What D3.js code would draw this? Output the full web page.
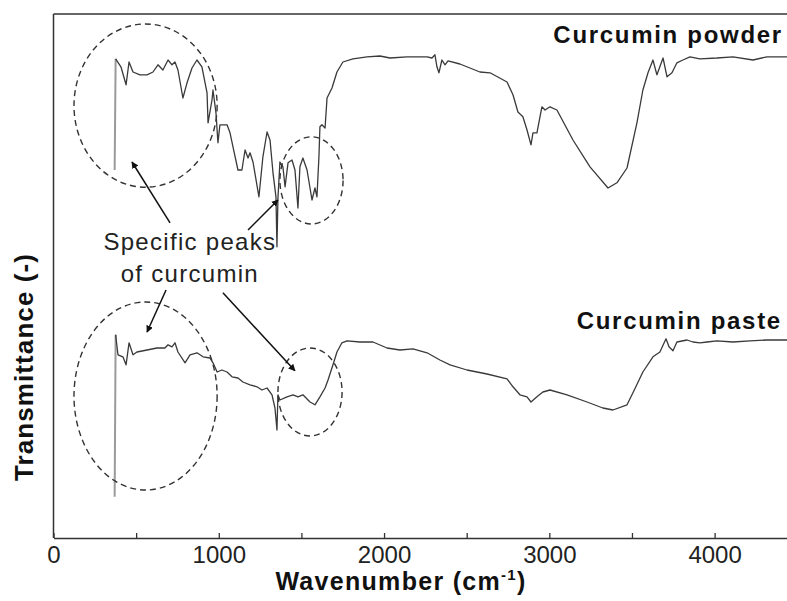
<!DOCTYPE html>
<html>
<head>
<meta charset="utf-8">
<script src="https://cdn.jsdelivr.net/npm/d3@7"></script>
<style>
  body { margin: 0; background: #fff; }
  text { font-family: 'Liberation Sans', Arial, sans-serif; }
</style>
</head>
<body>
<div id="chart"></div>
<script>
// FTIR spectra: [wavenumber (cm-1), transmittance (a.u.)]
const powder = [
  [370, 92], [376, 119.8], [408, 117.8], [439, 113.3], [457, 119], [481, 116.5], [523, 115.8],
  [566, 115.8], [602, 116.5], [632, 118.3], [662, 117], [693, 119.5], [717, 118.3], [735, 119],
  [753, 117], [783, 110], [808, 113.8], [838, 117.5], [868, 119.5], [898, 117.8], [929, 111.3],
  [935, 103.8], [959, 109.5], [965, 112], [983, 106.3], [995, 98.8], [1007, 103.3], [1050, 103.3],
  [1068, 101.3], [1086, 97.8], [1116, 92], [1140, 92], [1159, 97], [1177, 95], [1189, 96.3],
  [1207, 94], [1243, 85.3], [1267, 95.3], [1292, 101.5], [1310, 99.5], [1328, 91.3], [1346, 85.3],
  [1352, 72.8], [1358, 85], [1370, 94], [1388, 92.8], [1401, 87.8], [1419, 93.8], [1443, 94.5],
  [1461, 92], [1479, 82.5], [1491, 92.8], [1509, 95], [1534, 92], [1564, 84.5], [1582, 87.5],
  [1594, 85.3], [1606, 95.3], [1612, 102.8], [1624, 103.3], [1643, 102.5], [1655, 110],
  [1685, 112.5], [1715, 116.5], [1751, 119], [1812, 119.8], [1897, 120.3], [1975, 120.5],
  [2036, 120], [2139, 120.3], [2260, 120.3], [2290, 120], [2308, 120.8], [2320, 117.8],
  [2332, 116.3], [2350, 119.5], [2369, 118.3], [2387, 119.3], [2459, 118.5], [2580, 116.5],
  [2641, 116.3], [2744, 114], [2780, 110.8], [2810, 106.5], [2840, 105.3], [2865, 102],
  [2889, 98.3], [2901, 101.3], [2925, 101.3], [2955, 107.8], [2974, 107], [3004, 107.8],
  [3046, 107], [3143, 99.5], [3246, 92.8], [3355, 87.5], [3409, 88.8], [3470, 92.5],
  [3530, 103.8], [3566, 112], [3597, 116.3], [3627, 119.5], [3651, 115.8], [3688, 120],
  [3712, 115.3], [3742, 116.3], [3772, 118.8], [3808, 119.5], [3851, 120.3], [3911, 119.8],
  [4014, 120], [4111, 120.3], [4232, 119.5], [4317, 120.3], [4438, 120.3]
]
const paste = [
  [370, 10.3], [376, 50.8], [390, 45.8], [420, 45.3], [439, 43.3], [457, 48.8], [481, 45.8],
  [505, 46.5], [566, 47], [626, 47.5], [674, 47.5], [693, 48.3], [717, 47.8], [735, 48.8],
  [753, 46.5], [796, 43.8], [826, 45.8], [868, 46.3], [905, 45.3], [947, 45], [965, 43.8],
  [990, 41.5], [1019, 42], [1050, 41.5], [1080, 40.3], [1116, 40], [1146, 39], [1189, 38.3],
  [1231, 37.8], [1261, 37], [1292, 37.5], [1322, 35.8], [1340, 32.5], [1352, 27], [1358, 35.8],
  [1370, 34.5], [1413, 35.3], [1449, 35.8], [1479, 35.3], [1509, 35.8], [1552, 34], [1582, 33.3],
  [1612, 35.3], [1643, 37.5], [1661, 39.5], [1691, 43.3], [1715, 46.5], [1745, 48.8],
  [1776, 49.3], [1854, 49], [1933, 49], [2018, 47.5], [2096, 47], [2175, 47.3], [2260, 46.3],
  [2338, 44.5], [2399, 43.3], [2502, 42], [2623, 41], [2744, 39.8], [2780, 37.8], [2822, 35.8],
  [2865, 35.3], [2889, 34], [2925, 35.3], [2961, 36.5], [3004, 37], [3107, 35.8], [3228, 34],
  [3324, 32.5], [3385, 32], [3470, 33.3], [3506, 36.3], [3566, 41.5], [3627, 45.3], [3669, 46.5],
  [3706, 49.8], [3724, 47.8], [3748, 46.8], [3772, 49], [3833, 49.5], [3869, 49], [3911, 48.8],
  [3954, 49], [4014, 49.3], [4111, 49], [4214, 49.3], [4317, 49.5], [4438, 49.5]
]
const seriesLabels = [
  {text: 'Curcumin powder', x: 4413, y: 123.8},
  {text: 'Curcumin paste', x: 4407, y: 52.3}
]
const xTicks = [0, 1000, 2000, 3000, 4000]
const xMinorTicks = [500, 1500, 2500, 3500]
// dashed circles around the specific peaks: center and radii in data units
const circles = [
  {cx: 557, cy: 108.1, rx: 433, ry: 20.4},
  {cx: 1561, cy: 89.4, rx: 191, ry: 10.9},
  {cx: 557, cy: 35.5, rx: 433, ry: 23.5},
  {cx: 1552, cy: 36.5, rx: 194, ry: 11}
]
const arrows = [
  {x1: 705, y1: 78.8, x2: 475, y2: 94},
  {x1: 1177, y1: 77, x2: 1358, y2: 84.5},
  {x1: 681, y1: 62, x2: 566, y2: 51.5},
  {x1: 1025, y1: 61.3, x2: 1461, y2: 41.8}
]
const noteLines = ['Specific peaks', 'of curcumin']
const noteAt = {x: 825, y: [72, 64]}

const width = 787, height = 601
const margin = {top: 14, right: 0, bottom: 63, left: 53.5}

const x = d3.scaleLinear().domain([0, 4438]).range([margin.left, width - margin.right])
const y = d3.scaleLinear().domain([0, 131]).range([height - margin.bottom, margin.top])

const svg = d3.select('#chart').append('svg')
  .attr('width', width)
  .attr('height', height)

const defs = svg.append('defs')
defs.append('marker')
  .attr('id', 'head')
  .attr('viewBox', '0 0 10 10')
  .attr('refX', 9).attr('refY', 5)
  .attr('markerWidth', 7).attr('markerHeight', 7)
  .attr('markerUnits', 'userSpaceOnUse')
  .attr('orient', 'auto')
  .append('path')
  .attr('d', 'M0,0L10,5L0,10z')
  .attr('fill', '#111')

// frame: top line, then axes
svg.append('line')
  .attr('x1', x(0)).attr('x2', width)
  .attr('y1', y(131)).attr('y2', y(131))
  .attr('stroke', '#333').attr('stroke-width', 1.5)

const xAxis = d3.axisBottom(x)
  .tickValues(xTicks.concat(xMinorTicks))
  .tickSizeInner(-5).tickSizeOuter(0)
  .tickFormat(d => xTicks.includes(d) ? d : '')
const gx = svg.append('g')
  .attr('transform', `translate(0,${y(0)})`)
  .call(xAxis)
gx.select('.domain').attr('stroke', '#333').attr('stroke-width', 1.5)
gx.selectAll('.tick line').attr('stroke', '#333').attr('stroke-width', 1.3)
gx.selectAll('.tick text')
  .attr('y', 25)
  .attr('dy', 0)
  .attr('fill', '#222')
  .style('font-size', '24px')
  .style('font-family', "'Liberation Sans', Arial, sans-serif")

svg.append('line')
  .attr('x1', x(0)).attr('x2', x(0))
  .attr('y1', y(131)).attr('y2', y(0))
  .attr('stroke', '#333').attr('stroke-width', 1.5)

// axis titles
const xt = svg.append('text')
  .attr('x', 401).attr('y', 590)
  .attr('text-anchor', 'middle')
  .attr('font-weight', 'bold')
  .attr('font-size', 25)
  .attr('letter-spacing', 1.3)
  .attr('fill', '#111')
xt.append('tspan').text('Wavenumber (cm')
xt.append('tspan').attr('font-size', 15).attr('dy', -10).text('-1')
xt.append('tspan').attr('dy', 10).text(')')

svg.append('text')
  .attr('transform', 'translate(33,367) rotate(-90)')
  .attr('text-anchor', 'middle')
  .attr('font-weight', 'bold')
  .attr('font-size', 26)
  .attr('letter-spacing', 1.1)
  .attr('fill', '#111')
  .text('Transmittance (-)')

// spectra
const line = d3.line().x(d => x(d[0])).y(d => y(d[1]))
;[powder, paste].forEach(s => {
  svg.append('path')
    .datum(s.slice(0, 2))
    .attr('d', line)
    .attr('fill', 'none')
    .attr('stroke', '#9a9a9a')
    .attr('stroke-width', 2)
  svg.append('path')
    .datum(s.slice(1))
    .attr('d', line)
    .attr('fill', 'none')
    .attr('stroke', '#3a3a3a')
    .attr('stroke-width', 1.3)
    .attr('stroke-linejoin', 'round')
})

svg.selectAll('.series-label')
  .data(seriesLabels)
  .join('text')
  .attr('class', 'series-label')
  .attr('x', d => x(d.x)).attr('y', d => y(d.y))
  .attr('text-anchor', 'end')
  .attr('font-weight', 'bold')
  .attr('font-size', 24)
  .attr('letter-spacing', 1.7)
  .attr('fill', '#111')
  .text(d => d.text)

// annotations
svg.selectAll('.ring')
  .data(circles)
  .join('ellipse')
  .attr('class', 'ring')
  .attr('cx', d => x(d.cx)).attr('cy', d => y(d.cy))
  .attr('rx', d => x(d.rx) - x(0)).attr('ry', d => y(0) - y(d.ry))
  .attr('fill', 'none')
  .attr('stroke', '#333')
  .attr('stroke-width', 1.4)
  .attr('stroke-dasharray', '6,4')

svg.selectAll('.arrow')
  .data(arrows)
  .join('line')
  .attr('class', 'arrow')
  .attr('x1', d => x(d.x1)).attr('y1', d => y(d.y1))
  .attr('x2', d => x(d.x2)).attr('y2', d => y(d.y2))
  .attr('stroke', '#111')
  .attr('stroke-width', 1.5)
  .attr('marker-end', 'url(#head)')

svg.selectAll('.note')
  .data(noteLines)
  .join('text')
  .attr('class', 'note')
  .attr('x', x(noteAt.x))
  .attr('y', (d, i) => y(noteAt.y[i]))
  .attr('text-anchor', 'middle')
  .attr('font-size', 24)
  .attr('letter-spacing', 1.3)
  .attr('fill', '#222')
  .text(d => d)
</script>
</body>
</html>
